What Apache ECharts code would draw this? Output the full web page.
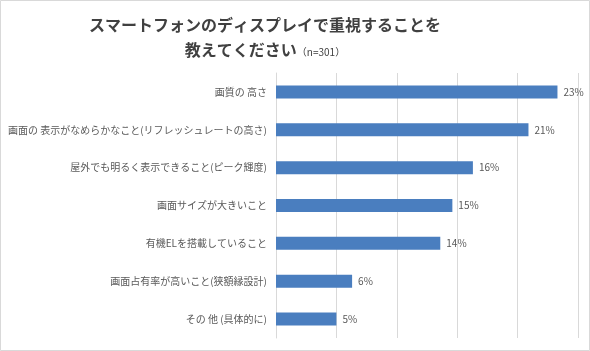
<!DOCTYPE html>
<html>
<head>
<meta charset="utf-8">
<script src="https://cdn.jsdelivr.net/npm/echarts@6/dist/echarts.min.js"></script>
<style>
  html, body { margin: 0; padding: 0; background: #fff; }
  #container { width: 590px; height: 351px; }
</style>
</head>
<body>
<div id="container"></div>
<script>
var categories = [
  '画質の 高さ',
  '画面の 表示がなめらかなこと(リフレッシュレートの高さ)',
  '屋外でも明るく表示できること(ピーク輝度)',
  '画面サイズが大きいこと',
  '有機ELを搭載していること',
  '画面占有率が高いこと(狭額縁設計)',
  'その 他 (具体的に)'
];
var values = [23.3, 20.9, 16.3, 14.6, 13.6, 6.3, 5.0];

var dom = document.getElementById('container');
var myChart = echarts.init(dom, null, { renderer: 'canvas' });

var font = '"Noto Sans CJK JP", "Noto Sans", sans-serif';

var option = {
  backgroundColor: '#fff',
  animation: false,
  title: [{
    text: 'スマートフォンのディスプレイで重視することを',
    left: 260,
    top: 12,
    textAlign: 'center',
    textStyle: { fontFamily: font, fontSize: 16, fontWeight: 'bold', color: '#404040' }
  }, {
    text: '{a|教えてください}{b|（n=301）}',
    left: 260,
    top: 37,
    textAlign: 'center',
    textStyle: {
      rich: {
        a: { fontFamily: font, fontSize: 16, fontWeight: 'bold', color: '#404040' },
        b: { fontFamily: font, fontSize: 10, fontWeight: 'normal', color: '#404040', padding: [4, 0, 0, 0] }
      }
    }
  }],
  graphic: [{
    type: 'rect',
    shape: { x: 0.5, y: 0.5, width: 589, height: 350 },
    style: { fill: 'none', stroke: '#d9d9d9', lineWidth: 1 },
    silent: true
  }],
  grid: { left: 276, right: 12, top: 73, bottom: 13, outerBoundsMode: 'none' },
  xAxis: {
    type: 'value',
    min: 0,
    max: 25,
    interval: 5,
    axisLabel: { show: false },
    axisLine: { show: false },
    axisTick: { show: false },
    splitLine: { lineStyle: { color: '#d9d9d9' } }
  },
  yAxis: {
    type: 'category',
    inverse: true,
    data: categories,
    axisTick: { show: false },
    axisLine: { lineStyle: { color: '#d9d9d9' } },
    axisLabel: { fontFamily: font, fontSize: 10, color: '#595959', margin: 9 }
  },
  series: [{
    type: 'bar',
    data: values,
    barWidth: 13,
    itemStyle: { color: '#4a7ebf' },
    label: {
      show: true,
      position: 'right',
      distance: 6,
      fontFamily: font,
      fontSize: 10,
      color: '#595959',
      formatter: function (p) { return Math.round(p.value) + '%'; }
    }
  }]
};

myChart.setOption(option);
window.addEventListener('resize', myChart.resize);
</script>
</body>
</html>
